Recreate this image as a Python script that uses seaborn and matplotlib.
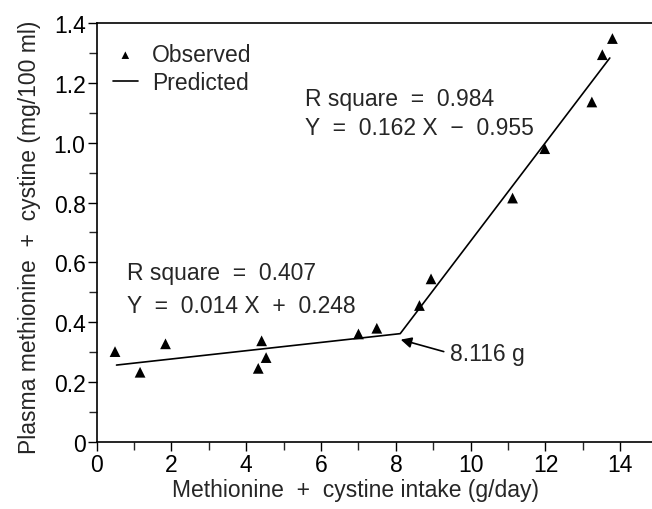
import matplotlib
matplotlib.use("Agg")
import matplotlib.pyplot as plt
import seaborn as sns
import numpy as np
import pandas as pd

# observed points
obs_x = [0.49, 1.16, 1.84, 4.32, 4.41, 4.53, 7.0, 7.49, 8.63, 8.94, 11.12, 11.98, 13.24, 13.52, 13.79]
obs_y = [0.302, 0.233, 0.328, 0.246, 0.338, 0.282, 0.361, 0.380, 0.456, 0.545, 0.815, 0.98, 1.136, 1.294, 1.348]

# broken-line prediction (start, breakpoint, end)
pred_x = [0.53, 8.116, 13.72]
pred_y = [0.257, 0.362, 1.283]

x_ticks = [0, 2, 4, 6, 8, 10, 12, 14]
y_ticks = [0, 0.2, 0.4, 0.6, 0.8, 1.0, 1.2, 1.4]
y_tick_labels = ["0", "0.2", "0.4", "0.6", "0.8", "1.0", "1.2", "1.4"]

FS = 16.5

sns.set_style("ticks")
plt.rcParams["font.family"] = ["Liberation Sans", "DejaVu Sans"]

fig = plt.figure(figsize=(6.52, 5.10), dpi=100)
ax = fig.add_axes([0.1483, 0.1314, 0.8604, 0.8216])

df = pd.DataFrame({"x": obs_x, "y": obs_y})
sns.scatterplot(data=df, x="x", y="y", marker="^", s=60, color="black",
                edgecolor="none", ax=ax, label="Observed", zorder=3)
sns.lineplot(x=pred_x, y=pred_y, color="black", lw=1.2, ax=ax,
             label="Predicted", sort=False, estimator=None)

ax.set_xlim(0, 15)
ax.set_ylim(0, 1.4)
ax.set_xticks(x_ticks)
ax.set_xticks(np.arange(0, 15, 1), minor=True)
ax.set_yticks(y_ticks)
ax.set_yticklabels(y_tick_labels)
ax.set_yticks(np.arange(0, 1.41, 0.1), minor=True)
ax.tick_params(axis="both", which="major", length=6.5, width=1, labelsize=FS, pad=1.5, colors="black")
ax.tick_params(axis="both", which="minor", length=5.5, width=1)

for side in ["left", "bottom", "top"]:
    ax.spines[side].set_linewidth(1.2)
    ax.spines[side].set_color("black")
ax.spines["right"].set_visible(False)

ax.set_xlabel("Methionine  +  cystine intake (g/day)", fontsize=FS)
ax.set_ylabel("Plasma methionine  +  cystine (mg/100 ml)", fontsize=FS)
ax.xaxis.set_label_coords(0.462, -0.085)
ax.yaxis.set_label_coords(-0.100, 0.49)

ax.text(5.57, 1.125, "R square  =  0.984", fontsize=FS, va="baseline")
ax.text(5.57, 1.030, "Y  =  0.162 X  \u2212  0.955", fontsize=FS, va="baseline")
ax.text(0.82, 0.545, "R square  =  0.407", fontsize=FS, va="baseline")
ax.text(0.82, 0.434, "Y  =  0.014 X  +  0.248", fontsize=FS, va="baseline")

ax.text(9.45, 0.274, "8.116 g", fontsize=FS, va="baseline")
ax.annotate("", xy=(8.13, 0.342), xytext=(9.28, 0.302),
            arrowprops=dict(arrowstyle="-|>", color="black", lw=1.2,
                            mutation_scale=16, shrinkA=0, shrinkB=0))

leg = ax.legend(loc="upper left", bbox_to_anchor=(0.0, 0.99), frameon=False,
                fontsize=FS, handlelength=1.1, handletextpad=0.6,
                labelspacing=0.2, markerscale=0.7, borderaxespad=0.3)

fig.savefig("out.png", dpi=100)
